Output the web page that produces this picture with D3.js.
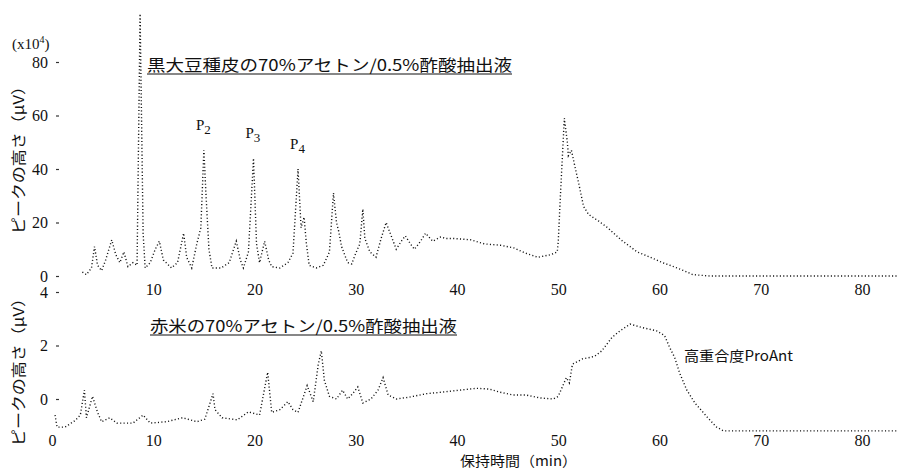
<!DOCTYPE html>
<html>
<head>
<meta charset="utf-8">
<script src="https://cdn.jsdelivr.net/npm/d3@7"></script>
<style>
  body { margin: 0; background: #fff; }
  .jp { font-family: "Noto Sans CJK JP", sans-serif; fill: #111; }
  .serif { font-family: "Liberation Serif", "DejaVu Serif", serif; fill: #111; }
</style>
</head>
<body>
<div id="chart-area"></div>
<script>
// black soybean seed coat extract (x10^4 uV)
var topTime = [3.0, 3.4, 3.9, 4.2, 4.5, 4.9, 5.3, 5.9, 6.3, 6.7, 7.1, 7.5, 8.0, 8.4, 8.7, 9.0, 9.2, 9.7,
  10.2, 10.6, 11.0, 11.8, 12.4, 13.0, 13.3, 13.8, 14.3, 14.7, 15.0, 15.2, 15.5, 15.8, 16.7, 17.5,
  18.2, 18.6, 18.9, 19.4, 19.9, 20.2, 20.5, 21.0, 21.4, 21.7, 22.5, 23.3, 23.8, 24.3, 24.6, 24.9,
  25.1, 25.4, 26.1, 26.8, 27.4, 27.8, 28.1, 28.3, 28.6, 29.2, 29.6, 30.0, 30.4, 30.7, 30.9, 31.4,
  32.0, 32.5, 33.0, 33.5, 34.0, 34.5, 34.9, 35.4, 35.8, 36.4, 36.9, 37.6, 38.4, 38.9, 39.7, 40.5,
  41.4, 42.7, 44.3, 45.6, 46.8, 48.0, 49.3, 49.9, 50.0, 50.2, 50.6, 50.9, 51.0, 51.3, 51.7, 52.0,
  52.5, 53.0, 54.0, 54.9, 56.2, 57.8, 59.1, 60.3, 61.4, 62.4, 63.3, 65.0, 83.5];
var topVal = [1.5, 0.5, 3, 11, 4, 2, 6, 13.5, 8, 5, 9, 3.5, 5, 4, 98, 16, 3, 5,
  10, 13, 6, 3, 5, 16, 7, 3, 12, 18, 47, 31, 10, 3, 3, 5,
  13, 6, 3, 9, 44, 12, 5, 13, 6, 3.5, 3, 5, 8.5, 40, 18, 22,
  13, 4, 3, 4, 9, 31, 20, 17, 11, 5, 4.5, 8.5, 12, 25, 14, 9,
  7, 14, 20, 15, 10, 13, 15, 12, 10, 13, 16, 13, 14.6, 14, 14, 13.8,
  13.5, 12, 11.5, 10.5, 8.5, 7, 8, 9, 12.7, 29, 59, 50, 45, 47, 40, 35,
  26, 23, 20.5, 18, 13.5, 9, 7, 5, 3.5, 2, 0.5, 0, 0];

// red rice extract
var botTime = [0.3, 0.5, 1.3, 2.3, 2.8, 3.2, 3.4, 4.0, 4.5, 4.9, 5.7, 6.4, 8.0, 9.0, 9.7, 11.3,
  12.9, 14.3, 15.1, 15.9, 16.1, 16.8, 18.3, 19.4, 20.5, 21.3, 21.7, 22.5, 23.3, 23.8, 24.3, 25.2,
  25.8, 26.3, 26.6, 26.9, 27.4, 28.1, 28.7, 29.2, 29.7, 30.2, 30.7, 31.5, 32.2, 32.7, 33.2, 34.0,
  35.3, 37.0, 38.6, 40.3, 41.9, 43.2, 44.2, 45.5, 46.8, 48.2, 49.5, 50.0, 50.8, 51.1, 51.4, 52.4,
  53.1, 53.6, 54.3, 55.3, 56.1, 57.1, 58.3, 59.7, 60.5, 61.0, 61.5, 62.0, 62.7, 63.5, 64.7, 65.6,
  66.3, 83.5];
var botVal = [-0.6, -1.05, -1.05, -0.8, -0.6, 0.33, -0.7, 0.1, -0.5, -0.85, -0.7, -0.9, -0.9, -0.6, -0.9, -0.85,
  -0.7, -0.85, -0.75, 0.2, -0.4, -0.7, -0.78, -0.48, -0.6, 1.0, -0.5, -0.4, -0.1, -0.4, -0.5, 0.5,
  -0.1, 1.3, 1.8, 0.7, 0.1, 0, 0.33, 0, 0.2, 0.45, -0.15, 0, 0.33, 0.8, 0.15, 0,
  0.07, 0.2, 0.26, 0.33, 0.4, 0.37, 0.26, 0.15, 0.15, 0.04, 0, 0.1, 0.8, 0.6, 1.3, 1.5,
  1.55, 1.6, 1.8, 2.3, 2.55, 2.8, 2.67, 2.55, 2.37, 1.93, 1.55, 0.96, 0.33, -0.15, -0.67, -1.04,
  -1.19, -1.19];

var xTicksTop = [10, 20, 30, 40, 50, 60, 70, 80];
var xTicksBot = [0, 10, 20, 30, 40, 50, 60, 70, 80];
var yTicksTop = [0, 20, 40, 60, 80];
var yTicksBot = [0, 2, 4];

var peakNames = ["2", "3", "4"];
var peakTimes = [15.0, 19.9, 24.3];
var peakVals = [47, 44, 40];

var width = 899, height = 471;

var svg = d3.select("#chart-area")
    .append("svg")
    .attr("width", width)
    .attr("height", height);

var x = d3.scaleLinear().domain([0, 80]).range([52, 862]);
var yTop = d3.scaleLinear().domain([0, 80]).range([276, 62]);
var yBot = d3.scaleLinear().domain([0, 4]).range([399, 292]);

var fmt = d3.format("d");

// x axes (labels only)
svg.append("g")
    .attr("class", "axis")
    .attr("transform", "translate(0,284)")
    .call(d3.axisBottom(x).tickValues(xTicksTop).tickFormat(fmt).tickSize(0).tickPadding(0));
svg.append("g")
    .attr("class", "axis")
    .attr("transform", "translate(0,435)")
    .call(d3.axisBottom(x).tickValues(xTicksBot).tickFormat(fmt).tickSize(0).tickPadding(0));

// y axes (numbers + small dashes)
svg.append("g")
    .attr("class", "axis")
    .attr("transform", "translate(59,0)")
    .call(d3.axisLeft(yTop).tickValues(yTicksTop).tickFormat(fmt).tickSize(3).tickPadding(8));
svg.append("g")
    .attr("class", "axis")
    .attr("transform", "translate(59,0)")
    .call(d3.axisLeft(yBot).tickValues(yTicksBot).tickFormat(fmt).tickSize(3).tickPadding(8));

svg.selectAll(".axis").attr("font-family", null).attr("font-size", null);
svg.selectAll(".axis text")
    .attr("class", "serif")
    .style("font-size", "16px")
    .attr("fill", "#111");
svg.selectAll(".domain").remove();
svg.selectAll(".tick line").attr("stroke", "#333").attr("stroke-width", 1.2);

// traces
var line = function (ys) {
    return d3.line()
        .x(d => x(d[0]))
        .y(d => ys(d[1]));
};

var topData = topTime.map((t, i) => [t, topVal[i]]);
var botData = botTime.map((t, i) => [t, botVal[i]]);

[[topData, yTop], [botData, yBot]].forEach(function (p) {
    svg.append("path")
        .datum(p[0])
        .attr("d", line(p[1]))
        .attr("fill", "none")
        .attr("stroke", "#111")
        .attr("stroke-width", 1.4)
        .attr("stroke-dasharray", "1.1,2.3");
});

// (x10^4)
var unit = svg.append("text")
    .attr("class", "serif")
    .attr("x", 12)
    .attr("y", 49)
    .attr("font-size", 15);
unit.append("tspan").text("(x10");
unit.append("tspan").attr("dy", -6).attr("font-size", 10).text("4");
unit.append("tspan").attr("dy", 6).text(")");

// y titles
[156, 368].forEach(function (cy) {
    svg.append("text")
        .attr("class", "jp")
        .attr("transform", "translate(24," + cy + ") rotate(-90)")
        .attr("text-anchor", "middle")
        .attr("font-size", 15)
        .attr("textLength", 156)
        .attr("lengthAdjust", "spacingAndGlyphs")
        .text("ピークの高さ（μV）");
});

// sample titles, underlined
var titles = ["黒大豆種皮の70%アセトン/0.5%酢酸抽出液", "赤米の70%アセトン/0.5%酢酸抽出液"];
var titleX = [147, 150];
var titleY = [71, 332];
var titleW = [365, 307];
titles.forEach(function (t, i) {
    svg.append("text")
        .attr("class", "jp")
        .attr("x", titleX[i])
        .attr("y", titleY[i])
        .attr("font-size", 16)
        .attr("textLength", titleW[i])
        .attr("lengthAdjust", "spacingAndGlyphs")
        .text(t);
    svg.append("line")
        .attr("x1", titleX[i])
        .attr("x2", titleX[i] + titleW[i])
        .attr("y1", titleY[i] + 3)
        .attr("y2", titleY[i] + 3)
        .attr("stroke", "#111")
        .attr("stroke-width", 1.2);
});

// peak labels
peakNames.forEach(function (n, i) {
    var lab = svg.append("text")
        .attr("class", "serif")
        .attr("x", x(peakTimes[i]) - 8)
        .attr("y", yTop(peakVals[i]) - 20)
        .attr("font-size", 15);
    lab.append("tspan").text("P");
    lab.append("tspan").attr("dy", 4).attr("font-size", 13).text(n);
});

// high polymer label
svg.append("text")
    .attr("class", "jp")
    .attr("x", 684)
    .attr("y", 361)
    .attr("font-size", 14)
    .attr("textLength", 109)
    .attr("lengthAdjust", "spacingAndGlyphs")
    .text("高重合度ProAnt");

// x title
svg.append("text")
    .attr("class", "jp")
    .attr("x", 460)
    .attr("y", 466)
    .attr("font-size", 14)
    .attr("textLength", 117)
    .attr("lengthAdjust", "spacingAndGlyphs")
    .text("保持時間（min）");
</script>
</body>
</html>
